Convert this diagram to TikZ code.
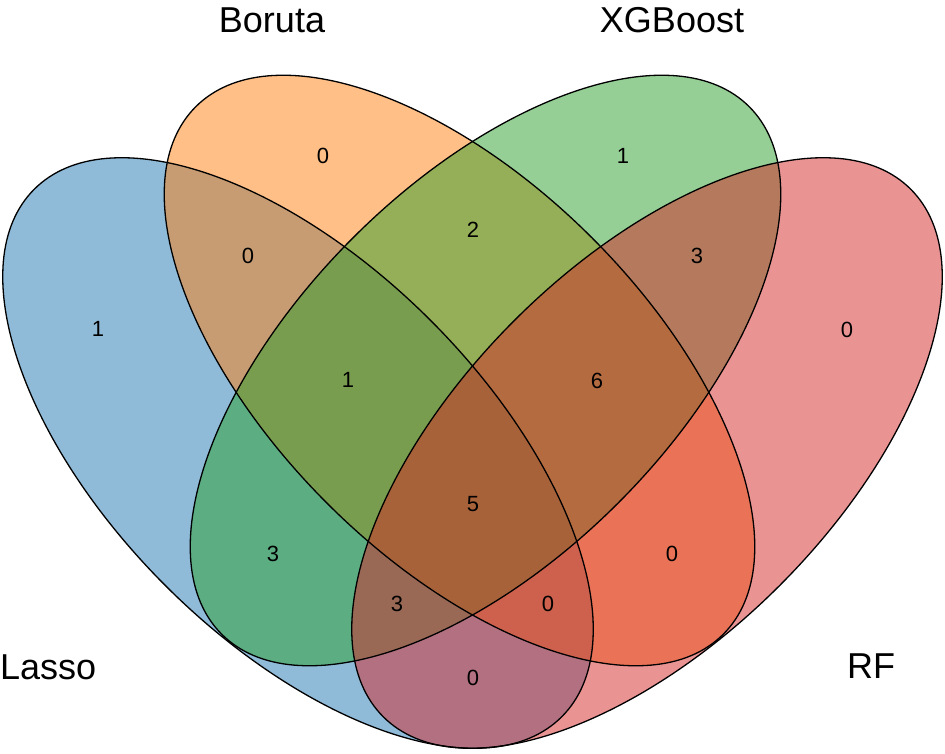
\documentclass[tikz,border=0pt]{standalone}
\usepackage{fontspec}
\setmainfont{Liberation Sans}
\definecolor{cLasso}{HTML}{1F77B4}
\definecolor{cBoruta}{HTML}{FF7F0E}
\definecolor{cXGB}{HTML}{2CA02C}
\definecolor{cRF}{HTML}{D62728}
\begin{document}
\begin{tikzpicture}[x=1pt,y=1pt,
  setfill/.style={fill=#1, fill opacity=0.5},
  setline/.style={draw=black, line width=1.3pt},
  setlabel/.style={inner sep=0pt, font=\fontsize{36}{36}\selectfont},
  num/.style={inner sep=0pt, font=\fontsize{22}{22}\selectfont}]
\path[use as bounding box] (0,0) rectangle (945,-754);
% fills
\fill[setfill=cLasso, shift={(298,-453)}, rotate=-45] (0,0) ellipse [x radius=373pt, y radius=187.5pt];
\fill[setfill=cBoruta, shift={(459.5,-370.5)}, rotate=-45] (0,0) ellipse [x radius=373pt, y radius=187.5pt];
\fill[setfill=cXGB, shift={(485.5,-370.5)}, rotate=45] (0,0) ellipse [x radius=373pt, y radius=187.5pt];
\fill[setfill=cRF, shift={(647,-453)}, rotate=45] (0,0) ellipse [x radius=373pt, y radius=187.5pt];
% outlines
\draw[setline, shift={(298,-453)}, rotate=-45] (0,0) ellipse [x radius=373pt, y radius=187.5pt];
\draw[setline, shift={(459.5,-370.5)}, rotate=-45] (0,0) ellipse [x radius=373pt, y radius=187.5pt];
\draw[setline, shift={(485.5,-370.5)}, rotate=45] (0,0) ellipse [x radius=373pt, y radius=187.5pt];
\draw[setline, shift={(647,-453)}, rotate=45] (0,0) ellipse [x radius=373pt, y radius=187.5pt];
% set labels
\node[setlabel] (lBoruta) at (272,-20) {Boruta};
\node[setlabel] (lXGB) at (672,-20) {XGBoost};
\node[setlabel, anchor=west] (lLasso) at (0,-667) {Lasso};
\node[setlabel] (lRF) at (871,-666) {RF};
% counts
\node[num] (n1) at (98,-329) {1};
\node[num] (n2) at (323,-156) {0};
\node[num] (n3) at (623,-156) {1};
\node[num] (n4) at (847,-330) {0};
\node[num] (n5) at (248,-256) {0};
\node[num] (n6) at (473,-230) {2};
\node[num] (n7) at (697,-256) {3};
\node[num] (n8) at (348,-380) {1};
\node[num] (n9) at (597,-381) {6};
\node[num] (n10) at (473,-504) {5};
\node[num] (n11) at (273,-554) {3};
\node[num] (n12) at (397,-604) {3};
\node[num] (n13) at (548,-604) {0};
\node[num] (n14) at (672,-554) {0};
\node[num] (n15) at (473,-678) {0};
\end{tikzpicture}
\end{document}
